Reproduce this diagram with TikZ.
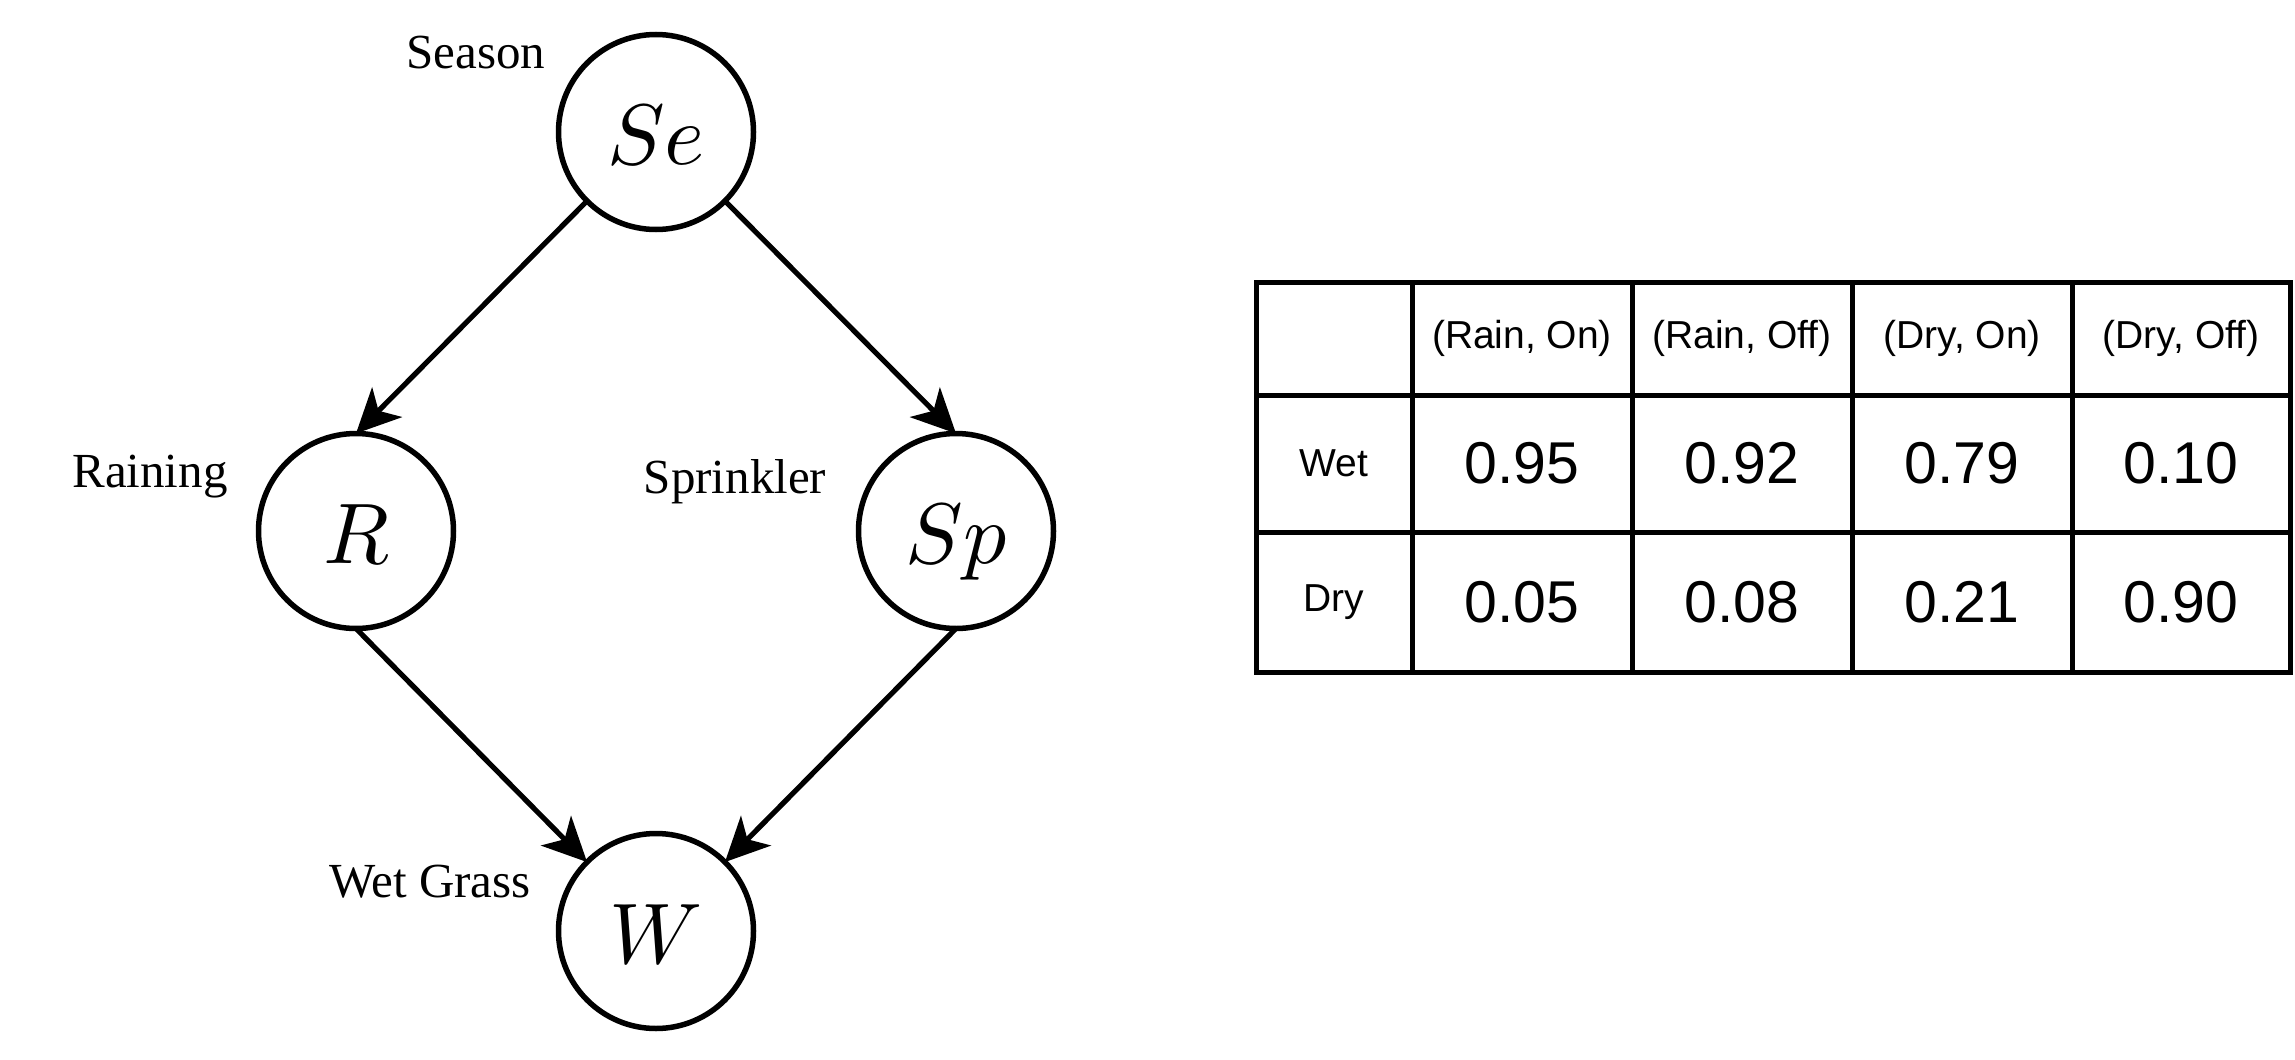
\documentclass[tikz,border=0pt]{standalone}
\usepackage{fontspec}
\setmainfont{Liberation Serif}
\newfontfamily\tabfont{Liberation Sans}
\usetikzlibrary{arrows.meta}
\DeclareFontShape{OML}{cmm}{m}{it}{<->cmmi10}{\skewchar\font'177}
\DeclareMathSizes{86}{86}{60}{43}
\begin{document}
\begin{tikzpicture}[x=1pt,y=-1pt,
  var/.style={circle, draw, line width=5.5pt, minimum size=195pt, inner sep=0pt, outer sep=0pt,
    font=\fontsize{86}{90}\selectfont, text height=80pt, text depth=16pt},
  lab/.style={anchor=base, inner sep=0pt, font=\fontsize{49}{52}\selectfont},
  arr/.style={line width=5.2pt, -{Stealth[length=44pt,width=42pt,inset=12pt]}},
  cell/.style={draw, line width=5pt, anchor=north west, inner sep=0pt, outer sep=0pt, minimum height=#1},
  hd/.style={font=\tabfont\fontsize{39}{42}\selectfont},
  num/.style={font=\tabfont\fontsize{59}{62}\selectfont},
  wA/.style={minimum width=156pt}, wB/.style={minimum width=220pt}, wC/.style={minimum width=218pt}]
\useasboundingbox (0,0) rectangle (2295,1060);
% Bayesian network
\node[var] (Se) at (656,132) {$Se$};
\node[var] (R)  at (356,531) {$R$};
\node[var] (Sp) at (956,531) {$Sp$};
\node[var] (W)  at (656,931) {$W$};
\node[lab] (lSe) at (476,68) {Season};
\node[lab] (lR)  at (150,487) {Raining};
\node[lab] (lSp) at (735,493) {Sprinkler};
\node[lab] (lW)  at (430,897) {Wet Grass};
\draw[arr] (Se.south west) -- (R.north);
\draw[arr] (Se.south east) -- (Sp.north);
\draw[arr] (R.south) -- (W.north west);
\draw[arr] (Sp.south) -- (W.north east);
% table
\node[cell=113pt,wA] (c00) at (1256,282) {};
\node[cell=113pt,wB,hd] (c01) at (1412,282) {(Rain, On)};
\node[cell=113pt,wB,hd] (c02) at (1632,282) {(Rain, Off)};
\node[cell=113pt,wB,hd] (c03) at (1852,282) {(Dry, On)};
\node[cell=113pt,wC,hd] (c04) at (2072,282) {(Dry, Off)};
\node[cell=137pt,wA,hd] (c10) at (1256,395) {Wet};
\node[cell=137pt,wB,num] (c11) at (1412,395) {0.95};
\node[cell=137pt,wB,num] (c12) at (1632,395) {0.92};
\node[cell=137pt,wB,num] (c13) at (1852,395) {0.79};
\node[cell=137pt,wC,num] (c14) at (2072,395) {0.10};
\node[cell=140pt,wA,hd] (c20) at (1256,532) {Dry};
\node[cell=140pt,wB,num] (c21) at (1412,532) {0.05};
\node[cell=140pt,wB,num] (c22) at (1632,532) {0.08};
\node[cell=140pt,wB,num] (c23) at (1852,532) {0.21};
\node[cell=140pt,wC,num] (c24) at (2072,532) {0.90};
\end{tikzpicture}
\end{document}
